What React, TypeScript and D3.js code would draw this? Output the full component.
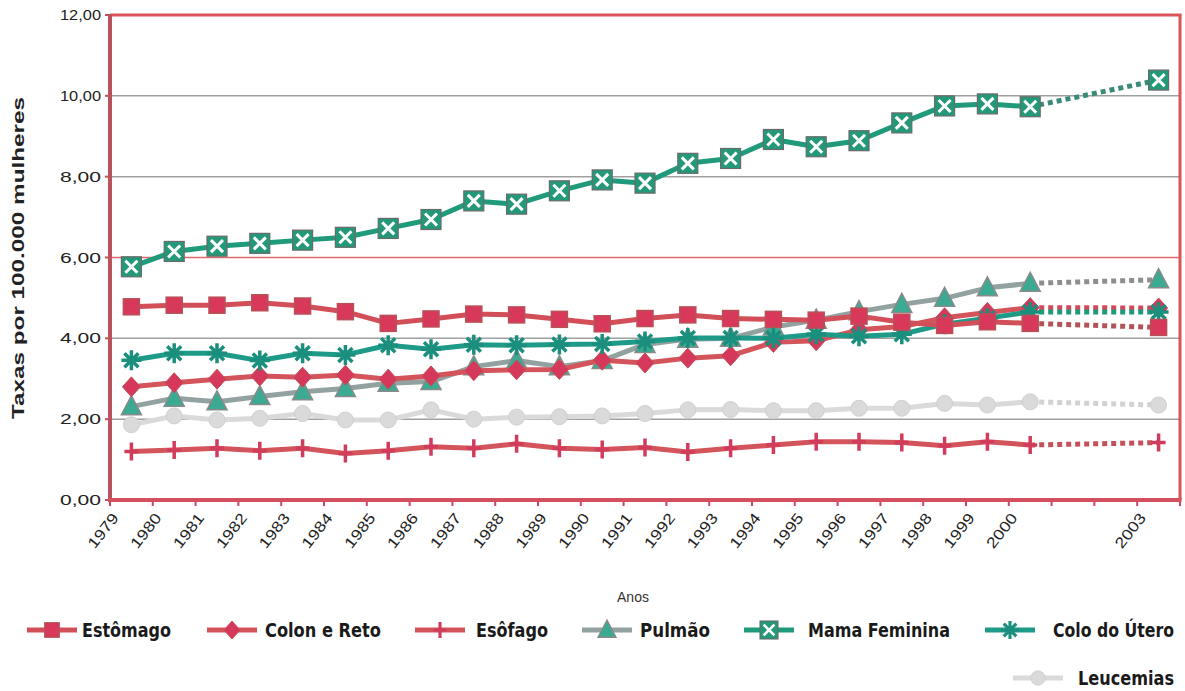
import React from "react";
import * as d3 from "d3";

const categories = ["1979","1980","1981","1982","1983","1984","1985","1986","1987","1988","1989","1990","1991","1992","1993","1994","1995","1996","1997","1998","1999","2000","2001","2002","2003"];
const tickLabels = ["1979","1980","1981","1982","1983","1984","1985","1986","1987","1988","1989","1990","1991","1992","1993","1994","1995","1996","1997","1998","1999","2000","","","2003"];
const yTicks = [0, 2, 4, 6, 8, 10, 12];

const estomago = [4.78,4.82,4.82,4.88,4.80,4.66,4.37,4.48,4.60,4.58,4.47,4.36,4.49,4.58,4.49,4.47,4.45,4.55,4.40,4.32,4.41,4.37,null,null,4.27];
const colonReto = [2.80,2.90,2.99,3.07,3.04,3.09,2.99,3.07,3.20,3.22,3.23,3.46,3.39,3.51,3.57,3.90,3.94,4.21,4.29,4.51,4.64,4.76,null,null,4.75];
const esofago = [1.20,1.24,1.28,1.22,1.28,1.15,1.22,1.32,1.28,1.39,1.28,1.25,1.30,1.19,1.28,1.36,1.44,1.44,1.42,1.34,1.44,1.36,null,null,1.42];
const pulmao = [2.31,2.52,2.43,2.56,2.68,2.76,2.89,2.93,3.30,3.45,3.30,3.45,3.85,3.98,4.00,4.28,4.45,4.66,4.84,4.99,5.25,5.36,null,null,5.45];
const mamaFeminina = [5.77,6.15,6.28,6.35,6.43,6.50,6.72,6.94,7.40,7.32,7.65,7.92,7.84,8.33,8.45,8.92,8.74,8.89,9.33,9.75,9.80,9.73,null,null,10.39];
const coloUtero = [3.46,3.63,3.63,3.45,3.63,3.59,3.83,3.73,3.84,3.83,3.85,3.86,3.92,4.01,4.01,4.00,4.10,4.05,4.10,4.35,4.50,4.65,null,null,4.65];
const leucemias = [1.86,2.08,1.98,2.02,2.14,1.98,1.98,2.23,2.00,2.05,2.06,2.08,2.14,2.23,2.24,2.21,2.21,2.27,2.27,2.39,2.35,2.43,null,null,2.35];

type Marker = "square" | "diamond" | "plus" | "triangle" | "xsquare" | "asterisk" | "circle";
interface Series { name: string; values: (number | null)[]; line: string; dot: string; marker: Marker; mfill: string; mstroke: string; }

const series: Series[] = [
  { name: "Leucemias", values: leucemias, line: "#dadada", dot: "#d2d2d2", marker: "circle", mfill: "#dadada", mstroke: "#d0d0d0" },
  { name: "Esôfago", values: esofago, line: "#d4545c", dot: "#c4505a", marker: "plus", mfill: "#d23c5c", mstroke: "#c83a58" },
  { name: "Pulmão", values: pulmao, line: "#92a2a0", dot: "#8e8e8e", marker: "triangle", mfill: "#3aab92", mstroke: "#8a8a8a" },
  { name: "Colon e Reto", values: colonReto, line: "#d4545c", dot: "#d24a5a", marker: "diamond", mfill: "#d6385c", mstroke: "#c05058" },
  { name: "Colo do Útero", values: coloUtero, line: "#1e9a88", dot: "#1f9a7c", marker: "asterisk", mfill: "#1a8f7e", mstroke: "#1a8f7e" },
  { name: "Estômago", values: estomago, line: "#d24e58", dot: "#b25358", marker: "square", mfill: "#d8385a", mstroke: "#b85058" },
  { name: "Mama Feminina", values: mamaFeminina, line: "#1f9a7b", dot: "#3a8a7a", marker: "xsquare", mfill: "#24997a", mstroke: "#6a6a6a" },
];

const legendRow1 = [
  { name: "Estômago", lx: 27, tx: 82, tw: 89 },
  { name: "Colon e Reto", lx: 207, tx: 265, tw: 116 },
  { name: "Esôfago", lx: 415, tx: 476, tw: 72 },
  { name: "Pulmão", lx: 582, tx: 640, tw: 70 },
  { name: "Mama Feminina", lx: 744, tx: 808, tw: 142 },
  { name: "Colo do Útero", lx: 985, tx: 1053, tw: 121 },
];
const legendRow2 = [{ name: "Leucemias", lx: 1013, tx: 1078, tw: 96 }];

function MarkerShape({ m, fill, stroke, x, y, k = 1 }: { m: Marker; fill: string; stroke: string; x: number; y: number; k?: number }) {
  const t = `translate(${x},${y}) scale(${k})`;
  switch (m) {
    case "square":
      return <rect transform={t} x={-8} y={-8} width={16} height={16} fill={fill} stroke={stroke} strokeWidth={1.5} />;
    case "diamond":
      return <path transform={t} d="M0,-10L9,0L0,10L-9,0Z" fill={fill} stroke={stroke} strokeWidth={1} />;
    case "plus":
      return <path transform={t} d="M-7,0H7M0,-9V9" stroke={fill} strokeWidth={3.5} fill="none" />;
    case "triangle":
      return <path transform={t} d="M0,-11L10,8L-10,8Z" fill={fill} stroke={stroke} strokeWidth={1.5} />;
    case "xsquare":
      return (
        <g transform={t}>
          <rect x={-10} y={-10} width={20} height={20} fill={fill} stroke={stroke} strokeWidth={1.2} />
          <path d="M-6,-6L6,6M6,-6L-6,6" stroke="#ffffff" strokeWidth={3} />
        </g>
      );
    case "asterisk":
      return <path transform={t} d="M0,-10V10M-10,0H10M-7,-7L7,7M7,-7L-7,7" stroke={fill} strokeWidth={3.5} fill="none" />;
    case "circle":
      return <circle transform={t} r={8} fill={fill} stroke={stroke} strokeWidth={1} />;
  }
}

export default function App() {
  const W = 1185, H = 691;
  const left = 110, right = 1180, top = 15, bottom = 500;
  const x = d3.scaleBand<string>().domain(categories).range([left, right]).padding(0);
  const bw = x.bandwidth();
  const cx = (c: string) => (x(c) as number) + bw / 2;
  const y = d3.scaleLinear().domain([0, 12]).range([bottom, top]);
  const lineGen = d3.line<number | null>()
    .defined((d) => d != null)
    .x((_, i) => cx(categories[i]))
    .y((d) => y(d as number));

  const gapSegments = (vals: (number | null)[]) => {
    const segs: [number, number][] = [];
    for (let i = 0; i < vals.length; i++) {
      if (vals[i] != null) {
        let j = i + 1;
        while (j < vals.length && vals[j] == null) j++;
        if (j > i + 1 && j < vals.length) segs.push([i, j]);
      }
    }
    return segs;
  };

  const fontAxis = "'Liberation Sans', Arial, sans-serif";
  const fontLegend = "'DejaVu Sans Condensed', 'Liberation Sans Narrow', 'Liberation Sans', sans-serif";
  const byName = (n: string) => series.find((s) => s.name === n)!;

  return (
    <svg width={W} height={H} style={{ position: "absolute", left: 0, top: 0, background: "#ffffff" }} xmlns="http://www.w3.org/2000/svg">
      <rect x={0} y={0} width={W} height={H} fill="#ffffff" />
      {yTicks.filter((v) => v > 0 && v < 12).map((v) => (
        <line key={v} x1={left} x2={right} y1={y(v)} y2={y(v)} stroke={v === 6 ? "#de6a6a" : "#a0a0a0"} strokeWidth={1.5} />
      ))}
      <line x1={left} x2={right + 1.5} y1={top} y2={top} stroke="#d9555a" strokeWidth={3} />
      <line x1={right} x2={right} y1={top} y2={bottom} stroke="#d9555a" strokeWidth={3} />
      {yTicks.map((v) => (
        <g key={v}>
          <line x1={left - 5} x2={left} y1={y(v)} y2={y(v)} stroke="#d04a5a" strokeWidth={2} />
          <text x={101} y={y(v) + 5} textAnchor="end" fontFamily={fontAxis} fontSize={14} fill="#222" textLength={41} lengthAdjust="spacingAndGlyphs">
            {d3.format(".2f")(v).replace(".", ",")}
          </text>
        </g>
      ))}
      {categories.map((c) => (
        <line key={c} x1={(x(c) as number)} x2={(x(c) as number)} y1={bottom} y2={bottom + 6} stroke="#c84860" strokeWidth={2} />
      ))}
      <line x1={right} x2={right} y1={bottom} y2={bottom + 6} stroke="#c84860" strokeWidth={2} />
      <line x1={left} x2={left} y1={top - 1} y2={bottom + 2} stroke="#b8525d" strokeWidth={4} />
      <line x1={left - 2} x2={right + 1.5} y1={bottom} y2={bottom} stroke="#d4505e" strokeWidth={4} />
      {categories.map((c, i) => (
        tickLabels[i] ? (
          <text key={c} transform={`translate(${cx(c) - 12},${bottom + 18}) rotate(-52)`} textAnchor="end" fontFamily={fontAxis} fontSize={15} fill="#222" textLength={40} lengthAdjust="spacingAndGlyphs">
            {tickLabels[i]}
          </text>
        ) : null
      ))}
      <text x={633} y={602} textAnchor="middle" fontFamily={fontAxis} fontSize={14} fill="#333">Anos</text>
      <text transform={`translate(24,258) rotate(-90)`} textAnchor="middle" fontFamily={fontAxis} fontWeight="bold" fontSize={17} fill="#222" textLength={322} lengthAdjust="spacingAndGlyphs">
        Taxas por 100.000 mulheres
      </text>
      {series.map((s) => (
        <g key={s.name}>
          {gapSegments(s.values).map(([a, b]) => (
            <line key={a} x1={cx(categories[a])} y1={y(s.values[a] as number)} x2={cx(categories[b])} y2={y(s.values[b] as number)}
              stroke={s.dot} strokeWidth={5} strokeDasharray="5 4" />
          ))}
          <path d={lineGen(s.values) || ""} fill="none" stroke={s.line} strokeWidth={5} strokeLinejoin="round" />
          {s.values.map((v, i) => v == null ? null : (
            <MarkerShape key={i} m={s.marker} fill={s.mfill} stroke={s.mstroke} x={cx(categories[i])} y={y(v)} />
          ))}
        </g>
      ))}
      {[...legendRow1.map((l) => ({ ...l, yy: 630 })), ...legendRow2.map((l) => ({ ...l, yy: 678 }))].map((l) => {
        const s = byName(l.name);
        return (
          <g key={l.name}>
            <line x1={l.lx} x2={l.lx + 50} y1={l.yy} y2={l.yy} stroke={s.line} strokeWidth={5} />
            <MarkerShape m={s.marker} fill={s.mfill} stroke={s.mstroke} x={l.lx + 25} y={l.yy} k={0.9} />
            <text transform={`translate(${l.tx},${l.yy + 7}) scale(1,1.15)`} fontFamily={fontLegend} fontWeight="bold" fontSize={17} fill="#1a1a1a" textLength={l.tw} lengthAdjust="spacingAndGlyphs">
              {l.name}
            </text>
          </g>
        );
      })}
    </svg>
  );
}
